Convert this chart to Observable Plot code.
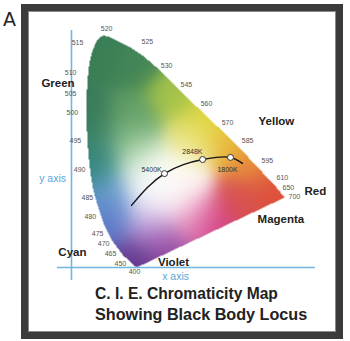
<!DOCTYPE html>
<html>
<head>
<meta charset="utf-8">
<script src="https://cdn.jsdelivr.net/npm/d3@7"></script>
<script src="https://cdn.jsdelivr.net/npm/@observablehq/plot@0.6"></script>
<style>
  html, body { margin: 0; padding: 0; background: #fff; overflow: hidden; }
  #wrap { position: relative; width: 350px; height: 341px; font-family: "Liberation Sans", Arial, sans-serif; }
  #chart { position: absolute; left: 0; top: 0; }
  #frame { position: absolute; left: 21px; top: 4px; width: 322px; height: 335px; box-sizing: border-box;
           border: 7px solid #3b3b3b; box-shadow: inset 0 0 0 1px #8a8a8a; pointer-events: none; }
  #letter { position: absolute; left: 3px; top: 8px; font-size: 19px; color: #222; font-family: "DejaVu Sans", sans-serif; }
  .title { position: absolute; left: 95px; font-weight: bold; color: #222; white-space: nowrap; }
</style>
</head>
<body>
<div id="wrap">
  <div id="chart"></div>
  <div id="frame"></div>
  <div id="letter">A</div>
  <div class="title" id="t1" style="top:285px;font-size:15.6px;">C. I. E. Chromaticity Map</div>
  <div class="title" id="t2" style="top:305px;font-size:16.2px;">Showing Black Body Locus</div>
</div>
<script>
// Spectral locus outline (chart units, origin at the blue axes crossing)
const locusOutline = [
  [0.217, 0.000], [0.197, 0.017], [0.170, 0.043], [0.137, 0.087], [0.110, 0.140],
  [0.090, 0.197], [0.073, 0.257], [0.063, 0.317], [0.057, 0.373], [0.053, 0.423],
  [0.050, 0.490], [0.050, 0.557], [0.053, 0.623], [0.060, 0.683], [0.070, 0.723],
  [0.083, 0.753], [0.097, 0.770], [0.110, 0.773], [0.130, 0.767], [0.157, 0.753],
  [0.197, 0.733], [0.237, 0.707], [0.280, 0.670], [0.323, 0.630], [0.363, 0.590],
  [0.403, 0.550], [0.447, 0.507], [0.490, 0.467], [0.530, 0.427], [0.587, 0.370],
  [0.640, 0.313], [0.683, 0.267], [0.710, 0.233]
];

// Wavelength labels (nm) and their positions
const wlText = ["520","515","525","530","510","505","545","500","560","570","495","585","595","490","610","650","700","485","480","475","470","465","450","400"];
const wlX = [0.117,0.020,0.253,0.317,-0.003,-0.003,0.383,0.003,0.450,0.520,0.013,0.587,0.653,0.027,0.703,0.723,0.743,0.053,0.063,0.087,0.107,0.130,0.163,0.210];
const wlY = [0.797,0.750,0.753,0.673,0.650,0.580,0.610,0.517,0.547,0.483,0.423,0.423,0.357,0.327,0.300,0.267,0.237,0.233,0.170,0.113,0.080,0.047,0.013,-0.013];

// Black body locus
const bbX = [0.200, 0.253, 0.310, 0.373, 0.437, 0.483, 0.530, 0.570];
const bbY = [0.207, 0.267, 0.313, 0.343, 0.360, 0.367, 0.367, 0.347];

// Marked temperatures
const tempText = ["5400K", "2848K", "1800K"];
const tempX = [0.310, 0.437, 0.530];
const tempY = [0.313, 0.360, 0.367];
const tempLabelX = [0.267, 0.403, 0.520];
const tempLabelY = [0.327, 0.387, 0.327];

// Colour names
const nameText = ["Green", "Yellow", "Red", "Magenta", "Cyan", "Violet"];
const nameX = [-0.045, 0.683, 0.813, 0.698, 0.003, 0.340];
const nameY = [0.613, 0.488, 0.253, 0.160, 0.050, 0.017];

// Axis names
const axisText = ["y axis", "x axis"];
const axisX = [-0.063, 0.347];
const axisY = [0.297, -0.030];

// Colour anchors for the filled map
const anchorX = [0.103,0.213,0.070,0.197,0.347,0.447,0.523,0.597,0.680,0.563,0.463,0.313,0.213,0.130,0.130,0.080,0.313,0.363,0.263,
                 0.263,0.363,0.230,0.197,0.397,0.397,0.263,0.075];
const anchorY = [0.723,0.690,0.490,0.490,0.573,0.497,0.423,0.350,0.250,0.223,0.150,0.073,0.023,0.157,0.240,0.340,0.273,0.307,0.223,
                 0.290,0.240,0.357,0.423,0.423,0.173,0.140,0.400];
const anchorColor = ["#3a7e56","#448656","#387a5a","#5e9c62","#a2c24a","#e1d737","#e8be3c","#e88c3c","#de503a","#d75050","#d23c87","#9646a0","#5f378c","#5a78c8","#6a9ed0","#348a88","#ffffff","#fafaf0","#f0f0fa",
                     "#ffffff","#fff6f6","#d8ecd4","#90c490","#ece68c","#f0a4c8","#c0a0dc","#3a8470"];

const anchors = anchorX.map((x, i) => ({x, y: anchorY[i], c: d3.rgb(anchorColor[i])}));
function mapColor(x, y) {
  if (!d3.polygonContains(locusOutline, [x, y])) return "#ffffff";
  let r = 0, g = 0, b = 0, ws = 0;
  for (const a of anchors) {
    const d2 = (x - a.x) ** 2 + (y - a.y) ** 2;
    const w = Math.exp(-d2 / (2 * 0.055 * 0.055)) + 1e-12;
    r += w * a.c.r; g += w * a.c.g; b += w * a.c.b; ws += w;
  }
  return `rgb(${Math.round(r / ws)},${Math.round(g / ws)},${Math.round(b / ws)})`;
}

const wl = wlText.map((t, i) => ({t, x: wlX[i], y: wlY[i]}));
const bb = bbX.map((x, i) => ({x, y: bbY[i]}));
const temps = tempText.map((t, i) => ({t, x: tempX[i], y: tempY[i], lx: tempLabelX[i], ly: tempLabelY[i]}));
const names = nameText.map((t, i) => ({t, x: nameX[i], y: nameY[i]}));
const axes = axisText.map((t, i) => ({t, x: axisX[i], y: axisY[i]}));

const plot = Plot.plot({
  width: 350,
  height: 341,
  margin: 0,
  style: {fontFamily: "'Liberation Sans', Arial, sans-serif", background: "#fff"},
  x: {domain: [-71 / 300, 279 / 300], axis: null},
  y: {domain: [-74 / 300, 267 / 300], axis: null},
  color: {type: "identity"},
  marks: [
    Plot.raster({x1: 0.04, x2: 0.72, y1: -0.01, y2: 0.78, fill: mapColor, pixelSize: 1}),
    Plot.ruleX([0], {y1: -0.043, y2: 0.79, stroke: "#72b4e0", strokeWidth: 1.6}),
    Plot.ruleY([0], {x1: -0.047, x2: 0.813, stroke: "#72b4e0", strokeWidth: 1.6}),
    Plot.line(bb, {x: "x", y: "y", curve: "natural", stroke: "#151515", strokeWidth: 1.4}),
    Plot.dot(temps, {x: "x", y: "y", r: 3, fill: "#fff", stroke: "#333", strokeWidth: 1}),
    Plot.text(temps, {x: "lx", y: "ly", text: "t", fontSize: 7, fill: "#333"}),
    Plot.text(wl, {x: "x", y: "y", text: "t", fontSize: 7, fill: "#555"}),
    Plot.text(names, {x: "x", y: "y", text: "t", fontSize: 11.5, fontWeight: "bold", fill: "#222"}),
    Plot.text(axes, {x: "x", y: "y", text: "t", fontSize: 10.5, fill: "#5aa6da"})
  ]
});
document.getElementById("chart").appendChild(plot);
</script>
</body>
</html>
